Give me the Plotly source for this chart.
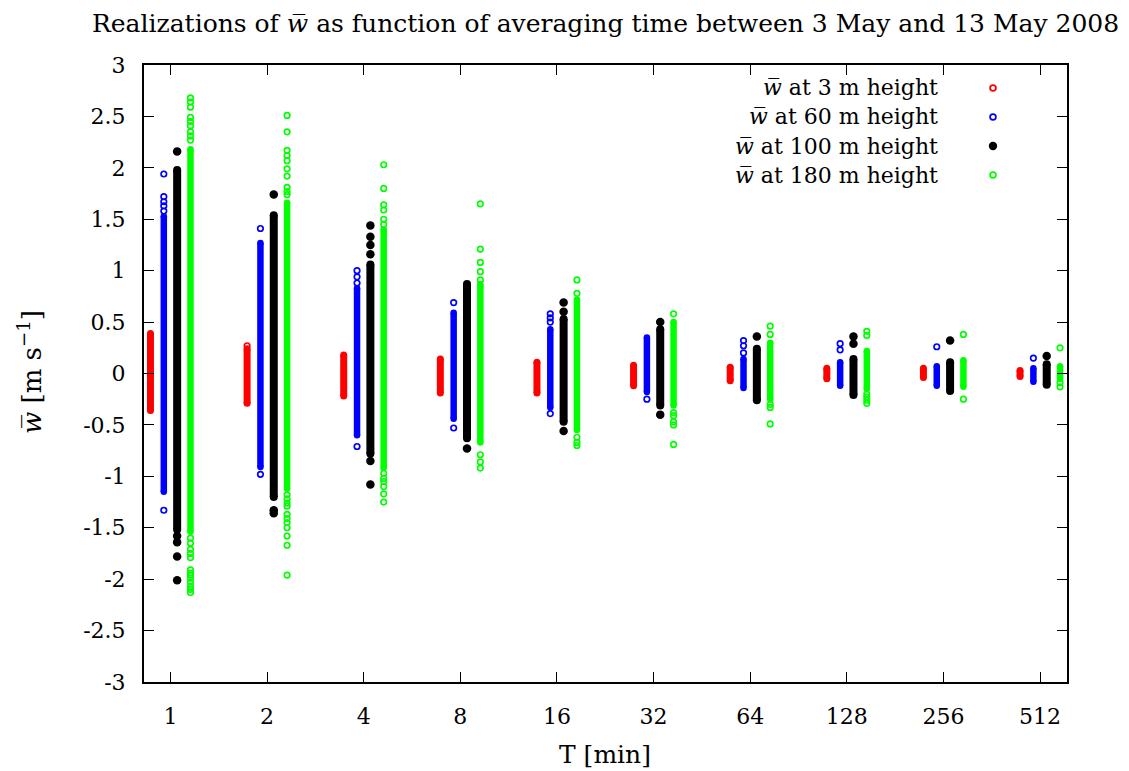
import plotly.graph_objects as go

# ---------------- data ----------------
categories = ["1", "2", "4", "8", "16", "32", "64", "128", "256", "512"]

# dense core of each column: lower / upper end of the continuous strip of realizations
red_core_lo = [-0.36, -0.29, -0.22, -0.19, -0.19, -0.12, -0.07, -0.05, -0.04, -0.03]
red_core_hi = [0.39, 0.24, 0.18, 0.14, 0.11, 0.08, 0.06, 0.05, 0.05, 0.03]
red_out = [[], [0.27], [], [], [], [], [], [], [], []]

blue_core_lo = [-1.15, -0.91, -0.60, -0.44, -0.33, -0.18, -0.14, -0.12, -0.12, -0.08]
blue_core_hi = [1.53, 1.27, 0.83, 0.59, 0.43, 0.35, 0.14, 0.11, 0.07, 0.05]
blue_out = [[1.94, 1.72, 1.67, 1.63, 1.58, -1.33], [1.41, -0.98], [1.00, 0.94, 0.88, -0.71],
            [0.69, -0.53], [0.58, 0.54, 0.50, -0.39], [-0.25], [0.32, 0.27, 0.20],
            [0.29, 0.23], [0.26], [0.15]]

black_core_lo = [-1.52, -1.20, -0.78, -0.63, -0.47, -0.31, -0.26, -0.21, -0.17, -0.11]
black_core_hi = [1.98, 1.54, 1.06, 0.87, 0.53, 0.43, 0.24, 0.14, 0.11, 0.09]
black_out = [[2.16, -1.58, -1.64, -1.78, -2.01], [1.74, -1.33, -1.36],
             [1.44, 1.33, 1.25, 1.16, -0.85, -1.08], [-0.73], [0.69, 0.60, -0.56],
             [0.50, -0.40], [0.36], [0.36, 0.29], [0.32], [0.17]]

green_core_lo = [-1.54, -1.12, -0.92, -0.67, -0.55, -0.31, -0.25, -0.15, -0.13, -0.05]
green_core_hi = [2.18, 1.66, 1.40, 0.87, 0.72, 0.50, 0.30, 0.22, 0.13, 0.07]
green_out = [
    [2.68, 2.64, 2.59, 2.49, 2.45, 2.41, 2.35, 2.31, 2.27, -1.60, -1.65, -1.71, -1.75,
     -1.79, -1.91, -1.94, -1.96, -1.99, -2.03, -2.07, -2.10, -2.13],
    [2.51, 2.35, 2.17, 2.12, 2.07, 1.99, 1.92, 1.81, 1.77, 1.74, -1.18, -1.22, -1.26,
     -1.29, -1.37, -1.41, -1.45, -1.50, -1.58, -1.67, -1.96],
    [2.03, 1.80, 1.64, 1.59, 1.50, 1.45, -0.97, -1.02, -1.05, -1.10, -1.17, -1.25],
    [1.65, 1.21, 1.08, 0.99, 0.91, -0.79, -0.86, -0.92],
    [0.91, 0.78, -0.62, -0.67, -0.70],
    [0.58, -0.38, -0.41, -0.47, -0.50, -0.69],
    [0.46, 0.38, -0.30, -0.33, -0.49],
    [0.41, 0.37, -0.20, -0.23, -0.26, -0.29],
    [0.38, -0.25],
    [0.25, -0.09, -0.13],
]

series_names = ["3 m", "60 m", "100 m", "180 m"]
y_ticks = [-3, -2.5, -2, -1.5, -1, -0.5, 0, 0.5, 1, 1.5, 2, 2.5, 3]
y_tick_text = ["-3", "-2.5", "-2", "-1.5", "-1", "-0.5", "0", "0.5", "1", "1.5", "2", "2.5", "3"]

# ---------------- styling ----------------
FONT = "DejaVu Serif"
WBAR = "<i>w\u0305</i>"
series = [
    dict(lo=red_core_lo, hi=red_core_hi, out=red_out, color="#ff0000", off=-0.207, filled=False, w=7),
    dict(lo=blue_core_lo, hi=blue_core_hi, out=blue_out, color="#0000ff", off=-0.069, filled=False, w=6.5),
    dict(lo=black_core_lo, hi=black_core_hi, out=black_out, color="#000000", off=0.069, filled=True, w=8),
    dict(lo=green_core_lo, hi=green_core_hi, out=green_out, color="#00ff00", off=0.207, filled=False, w=6.5),
]

fig = go.Figure()
for s in series:
    cx, cy, ox, oy = [], [], [], []
    for i in range(len(categories)):
        x = i + s["off"]
        cx += [x, x, None]
        cy += [s["lo"][i], s["hi"][i], None]
        for v in s["out"][i]:
            ox.append(x)
            oy.append(v)
    w = s["w"]
    fig.add_trace(go.Scatter(x=cx, y=cy, mode="lines+markers", showlegend=False,
                             line=dict(color=s["color"], width=w),
                             marker=dict(color=s["color"], size=w, symbol="circle",
                                         line=dict(width=0)),
                             hoverinfo="skip"))
    if s["filled"]:
        mk = dict(symbol="circle", size=8.5, color=s["color"], line=dict(width=0))
    else:
        mk = dict(symbol="circle-open", size=5.5, color=s["color"], line=dict(width=1.7, color=s["color"]))
    fig.add_trace(go.Scatter(x=ox, y=oy, mode="markers", showlegend=False, marker=mk))

# ---------------- custom legend (text right, symbol on right as in gnuplot) ----------------
L, R, T, B = 144, 62, 65, 89
PW, PH = 1129 - L - R, 771 - T - B
def px(xp):
    return (xp - L) / PW
def py(yp):
    return (771 - B - yp) / PH

annotations = []
shapes = []
legend_rows = [88, 117, 146, 175]
for s, name, yr in zip(series, series_names, legend_rows):
    annotations.append(dict(text=f"{WBAR} at {name} height", x=px(940), y=py(yr), xref="paper",
                            yref="paper", xanchor="right", yanchor="middle", showarrow=False,
                            font=dict(family=FONT, size=22, color="black")))
    if s["filled"]:
        shapes.append(dict(type="circle", xref="paper", yref="paper", xsizemode="pixel",
                           ysizemode="pixel", xanchor=px(993), yanchor=py(yr), x0=-4.2, x1=4.2,
                           y0=-4.2, y1=4.2, fillcolor="black", line=dict(width=0)))
    else:
        shapes.append(dict(type="circle", xref="paper", yref="paper", xsizemode="pixel",
                           ysizemode="pixel", xanchor=px(993), yanchor=py(yr), x0=-2.9, x1=2.9,
                           y0=-2.9, y1=2.9, fillcolor="white", line=dict(width=1.7, color=s["color"])))

annotations.append(dict(text=f"Realizations of {WBAR} as function of averaging time between 3 May and 13 May 2008",
                        x=px(605), y=py(24), xref="paper", yref="paper", xanchor="center",
                        yanchor="middle", showarrow=False, font=dict(family=FONT, size=25, color="black")))
annotations.append(dict(text="T [min]", x=px(605), y=py(754), xref="paper", yref="paper",
                        xanchor="center", yanchor="middle", showarrow=False,
                        font=dict(family=FONT, size=25, color="black")))
annotations.append(dict(text=f"{WBAR} [m s<sup>\u22121</sup>]", x=px(30), y=py(372), xref="paper",
                        yref="paper", xanchor="center", yanchor="middle", textangle=-90,
                        showarrow=False, font=dict(family=FONT, size=26, color="black")))

axis_common = dict(showline=True, linecolor="black", linewidth=2, mirror="ticks", ticks="inside",
                   ticklen=10, tickwidth=1.3, tickcolor="black", showgrid=False, zeroline=False,
                   tickfont=dict(family=FONT, size=22, color="black"))

fig.update_layout(
    width=1129, height=771, autosize=False,
    margin=dict(l=L, r=R, t=T, b=B),
    paper_bgcolor="white", plot_bgcolor="white",
    showlegend=False,
    xaxis=dict(range=[-0.274, 9.279], tickmode="array", tickvals=list(range(len(categories))),
               ticktext=categories, ticklabelstandoff=14, **axis_common),
    yaxis=dict(range=[-3, 3], tickmode="array", tickvals=y_ticks, ticktext=y_tick_text,
               ticklabelstandoff=12, **axis_common),
    annotations=annotations,
    shapes=shapes,
)

fig.write_html("out.html")
